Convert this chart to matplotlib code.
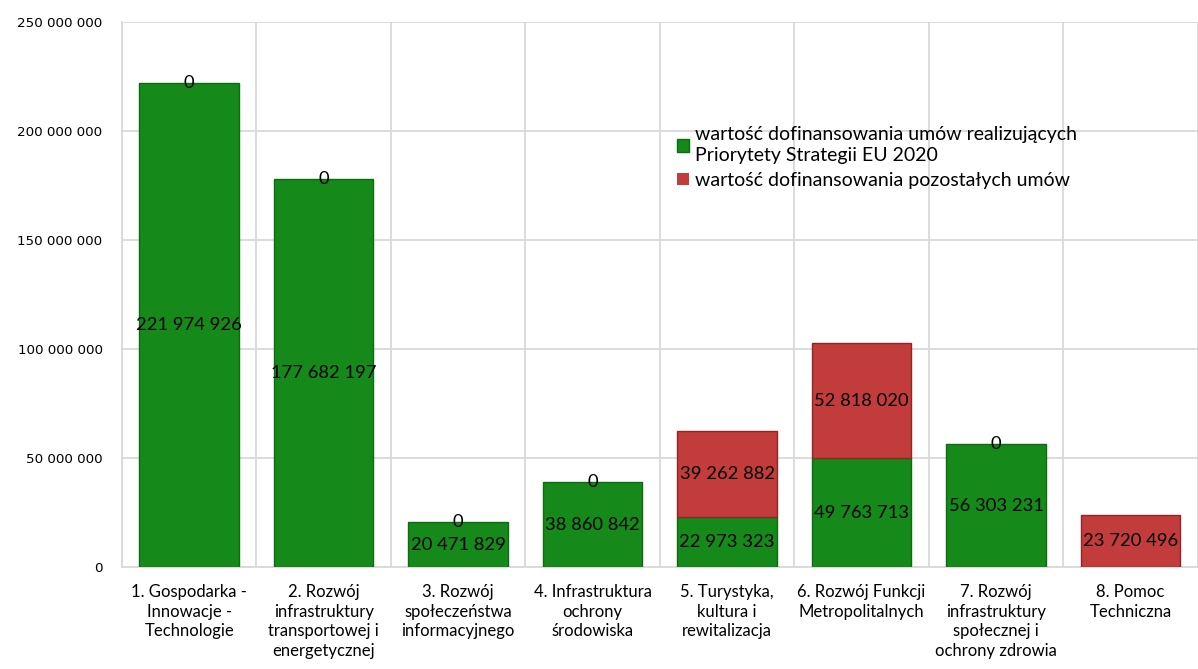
import matplotlib
matplotlib.use("Agg")
import matplotlib.pyplot as plt
from matplotlib.ticker import FuncFormatter, MultipleLocator
import numpy as np

categories = [
    "1. Gospodarka -\nInnowacje -\nTechnologie",
    "2. Rozwój\ninfrastruktury\ntransportowej i\nenergetycznej",
    "3. Rozwój\nspołeczeństwa\ninformacyjnego",
    "4. Infrastruktura\nochrony\nśrodowiska",
    "5. Turystyka,\nkultura i\nrewitalizacja",
    "6. Rozwój Funkcji\nMetropolitalnych",
    "7. Rozwój\ninfrastruktury\nspołecznej i\nochrony zdrowia",
    "8. Pomoc\nTechniczna",
]
eu2020 = [221974926, 177682197, 20471829, 38860842, 22973323, 49763713, 56303231, 0]
pozostale = [0, 0, 0, 0, 39262882, 52818020, 0, 23720496]
series_names = ["wartość dofinansowania umów realizujących\nPriorytety Strategii EU 2020",
                "wartość dofinansowania pozostałych umów"]

plt.rcParams['font.family'] = ['Lato', 'DejaVu Sans']

fig = plt.figure(figsize=(11.98, 6.69), dpi=100)
ax = fig.add_axes([0.1018, 0.1525, 0.898, 0.815])

x = np.arange(len(categories))
w = 0.74
green = "#15891a"
red = "#c23c3c"
g_lw = [1 if v > 0 else 0 for v in eu2020]
r_lw = [1 if v > 0 else 0 for v in pozostale]
ax.bar(x, eu2020, w, color=green, edgecolor="#0d6b10", linewidth=g_lw, label=series_names[0], zorder=3)
ax.bar(x, pozostale, w, bottom=eu2020, color=red, edgecolor="#8e2626", linewidth=r_lw, label=series_names[1], zorder=3)

def fmt(v):
    return f"{int(v):,}".replace(",", " ")

lab_fs = 13.2
for i in range(len(categories)):
    if eu2020[i] > 0:
        ax.text(x[i], eu2020[i] / 2, fmt(eu2020[i]), ha="center", va="center", fontsize=lab_fs, zorder=5)
        ax.text(x[i], eu2020[i] + pozostale[i] / 2, fmt(pozostale[i]), ha="center", va="center", fontsize=lab_fs, zorder=5)
    else:
        ax.text(x[i], pozostale[i] / 2, fmt(pozostale[i]), ha="center", va="center", fontsize=lab_fs, zorder=5)

ax.set_xlim(-0.5, len(categories) - 0.5)
ax.set_ylim(0, 250000000)
ax.yaxis.set_major_locator(MultipleLocator(50000000))
ax.yaxis.set_major_formatter(FuncFormatter(lambda v, p: fmt(v)))
ax.set_xticks(x)
ax.set_xticklabels(categories, fontsize=12, linespacing=1.3)
ax.set_xticks(np.arange(-0.5, len(categories)), minor=True)
ax.grid(True, which="major", axis="y", color="#d9d9d9", linewidth=1.3, zorder=0)
ax.grid(True, which="minor", axis="x", color="#d9d9d9", linewidth=1.3, zorder=0)
ax.tick_params(axis="x", which="both", length=0, pad=12)
ax.tick_params(axis="y", length=0, pad=14)
for lbl in ax.get_yticklabels():
    lbl.set_family(['DejaVu Sans'])
    lbl.set_fontsize(9.7)
for s in ["top", "right"]:
    ax.spines[s].set_visible(False)
ax.spines["left"].set_color("#d9d9d9")
ax.spines["bottom"].set_color("#d9d9d9")
ax.spines["left"].set_linewidth(1.3)
ax.spines["bottom"].set_linewidth(1.3)

leg = ax.legend(loc="upper left", bbox_to_anchor=(0.5, 0.84), frameon=False, fontsize=14,
                handlelength=0.6, handleheight=0.6, handletextpad=0.3, labelspacing=0.4)
for t in leg.get_texts():
    t.set_linespacing(1.25)

fig.savefig("out.png", dpi=100)
